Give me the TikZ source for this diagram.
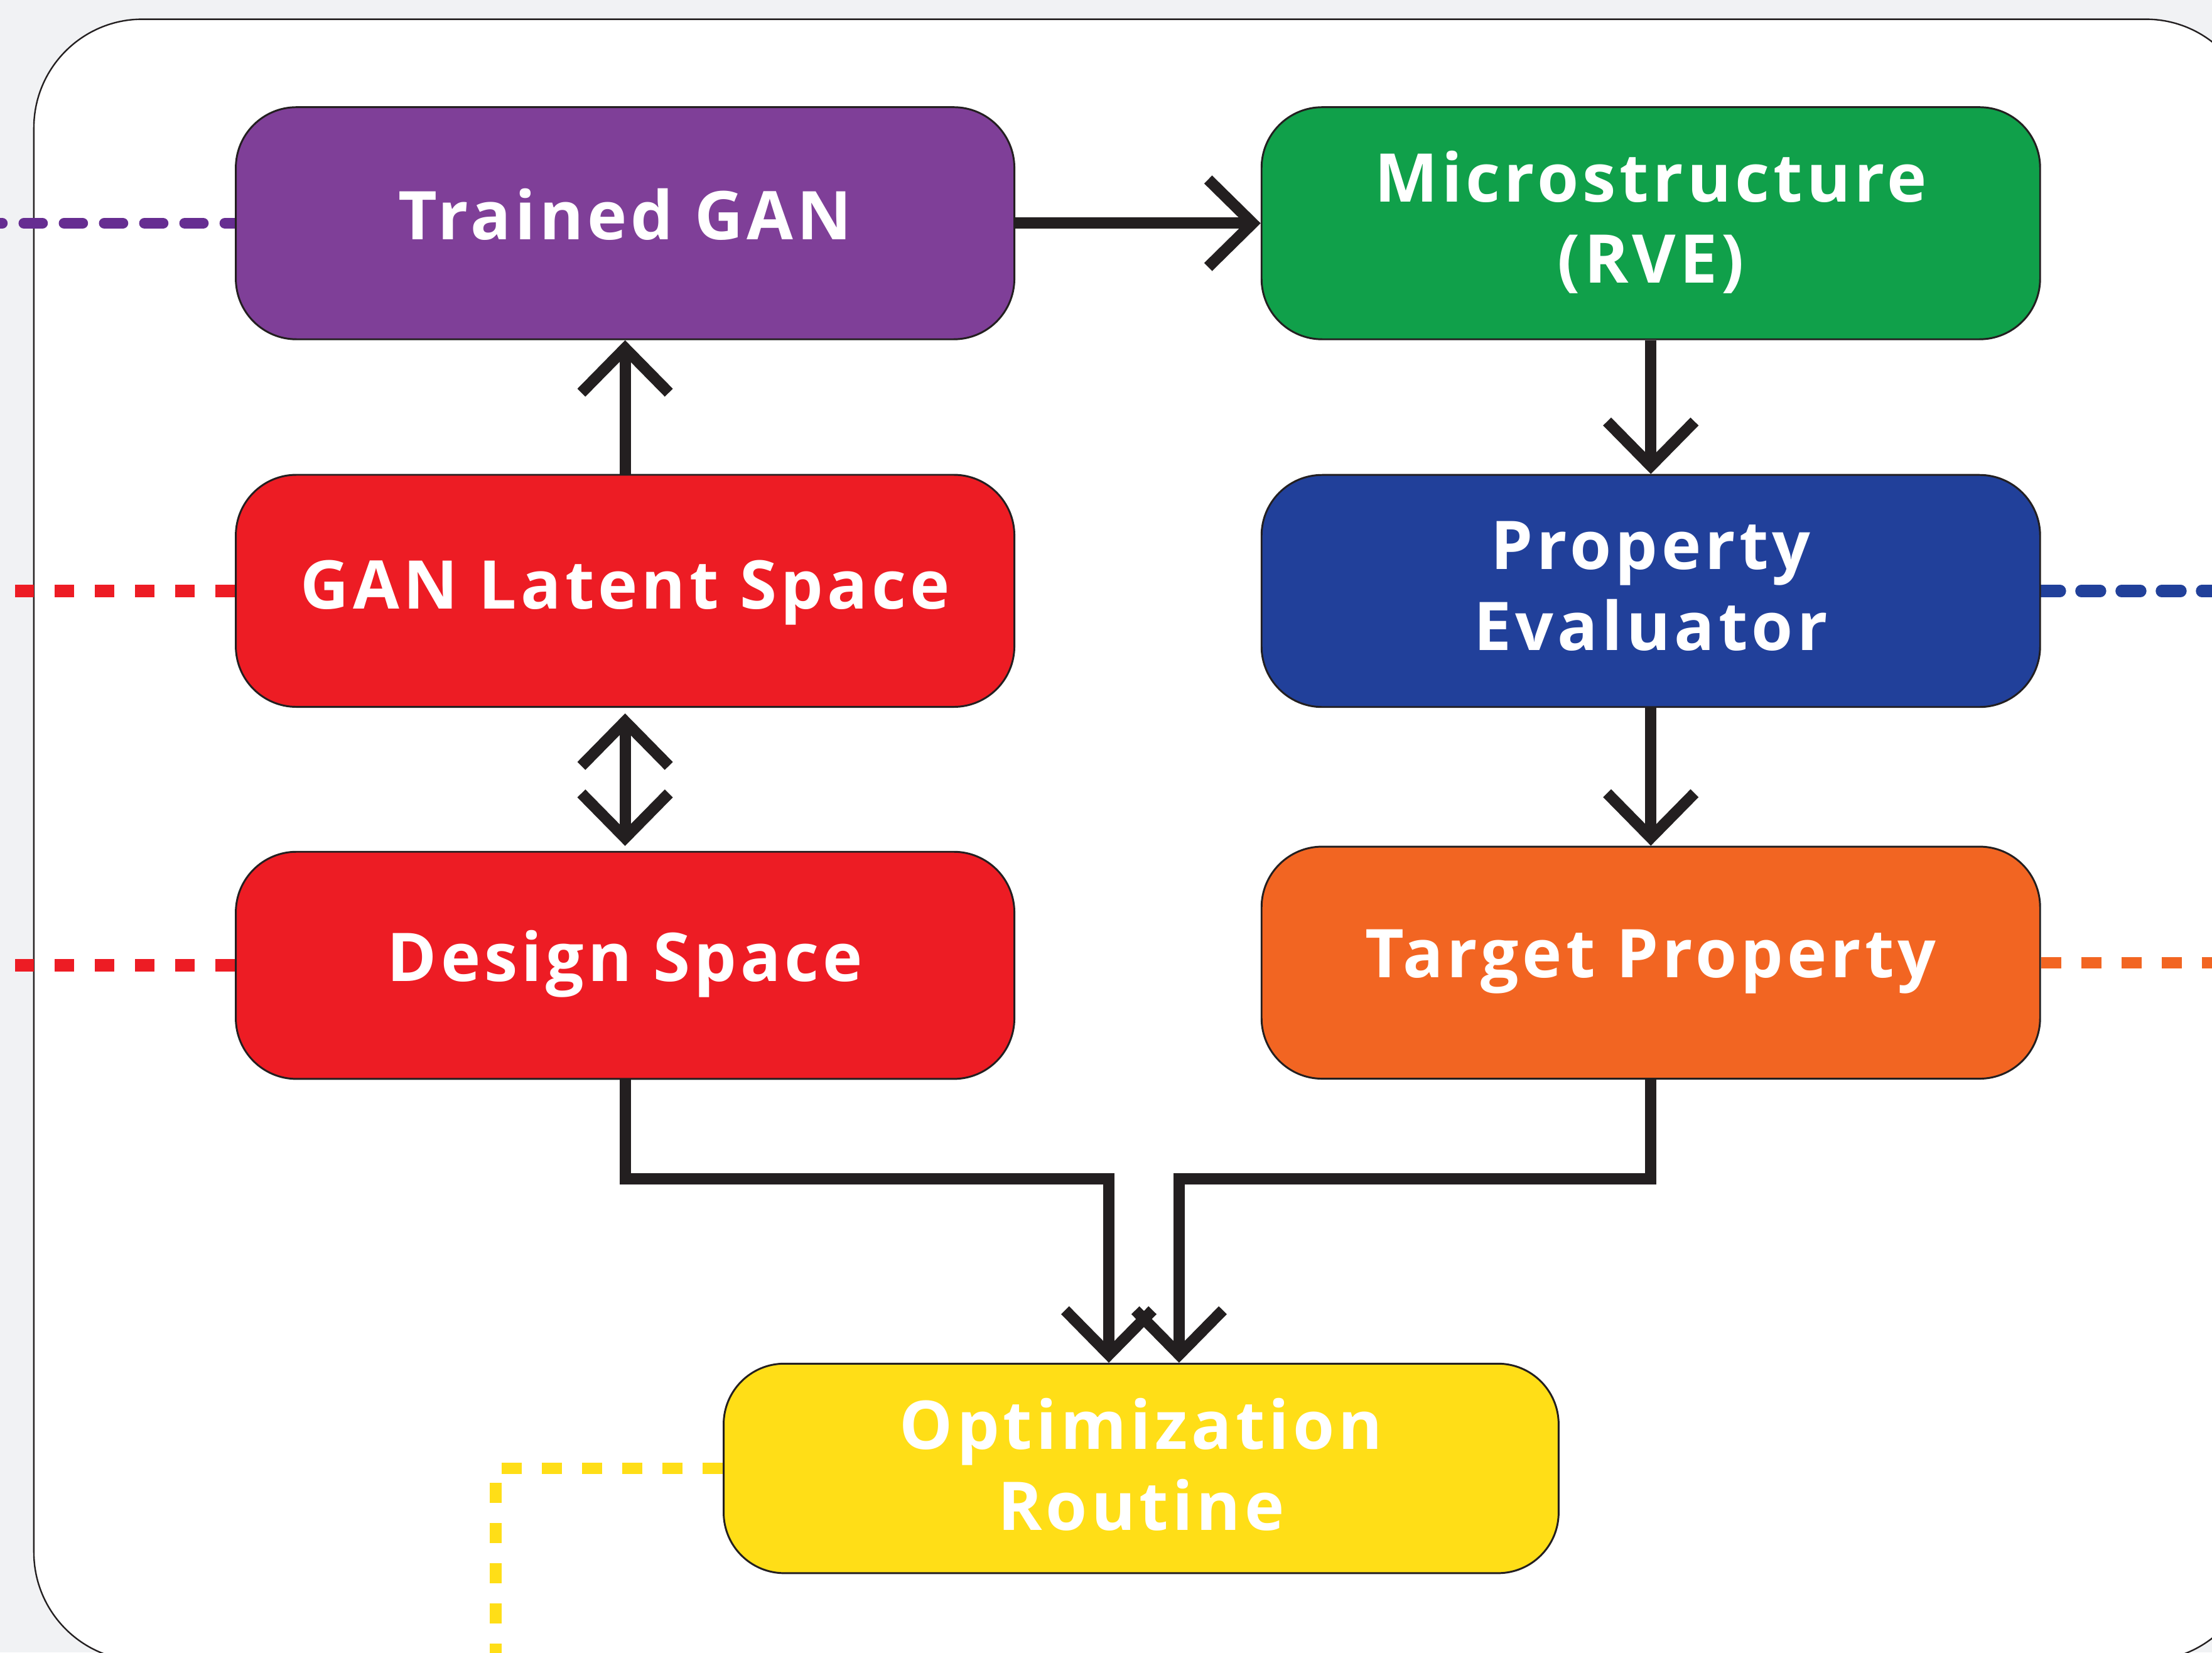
\documentclass[tikz,border=0pt]{standalone}
\usepackage{fontspec}
\setmainfont{Open Sans}[LetterSpace=5.7]
\usetikzlibrary{arrows.meta}
\definecolor{bgc}{RGB}{241,242,244}
\definecolor{linec}{RGB}{35,31,32}
\definecolor{cpurple}{RGB}{127,63,152}
\definecolor{cgreen}{RGB}{16,160,74}
\definecolor{cred}{RGB}{237,28,36}
\definecolor{cblue}{RGB}{33,64,154}
\definecolor{corange}{RGB}{242,101,34}
\definecolor{cyellow}{RGB}{255,222,23}
\definecolor{dpurple}{RGB}{102,45,145}
\pgfdeclarelayer{back}
\pgfsetlayers{back,main}
\newcommand\boxlbl[2][0cm]{\raisebox{-#1}[\height][\depth]{\begin{tabular}{@{}c@{}}#2\end{tabular}}}
\begin{document}
\begin{tikzpicture}[x=0.02cm,y=-0.02cm,
  blk/.style={rectangle, rounded corners=0.86cm, draw=linec, line width=0.75pt,
    minimum width=11.04cm, minimum height=3.29cm, inner sep=0pt, text=white,
    font=\fontsize{27.1pt}{32.6pt}\selectfont\bfseries},
  arr/.style={draw=linec, line width=0.16cm, -{Straight Barb[length=0.63cm,width=1.24cm,sharp]}},
  arrd/.style={draw=linec, line width=0.16cm, {Straight Barb[length=0.63cm,width=1.24cm,sharp]}-{Straight Barb[length=0.63cm,width=1.24cm,sharp]}},
  reddash/.style={cred, line width=0.18cm, dash pattern=on 0.28cm off 0.29cm}
]
\useasboundingbox (0,0) rectangle (1568,1171);

\node[blk, fill=cpurple] (tg) at (443.1,158.2) {\boxlbl{Trained GAN}};
\node[blk, fill=cgreen] (ms) at (1170.2,158.2) {\boxlbl[0.04cm]{Microstructure\\(RVE)}};
\node[blk, fill=cred] (ls) at (443.1,418.7) {\boxlbl[0.03cm]{GAN Latent Space}};
\node[blk, fill=cblue] (pe) at (1170.2,418.8) {\boxlbl[0.04cm]{Property\\Evaluator}};
\node[blk, fill=cred, minimum height=3.22cm] (ds) at (443.1,684.1) {\boxlbl{Design Space}};
\node[blk, fill=corange] (tp) at (1170.2,682.2) {\boxlbl[-0.02cm]{Target Property}};
\node[blk, fill=cyellow, minimum width=11.84cm, minimum height=2.97cm] (opt) at (808.9,1040.6) {\boxlbl[0.07cm]{Optimization\\Routine}};

\coordinate (jL) at (786,835.4);
\coordinate (jR) at (835.8,835.4);
\coordinate (pL) at (-10,0);
\coordinate (rL) at (10.5,0);
\coordinate (rR) at (1590,0);
\coordinate (yc) at (351.5,0);
\coordinate (yb) at (351.5,1190);

\draw[arr] (tg.east) -- (ms.west);
\draw[arr] (ls.north) -- (tg.south);
\draw[arrd, shorten <=0.08cm, shorten >=0.07cm] (ls.south) -- (ds.north);
\draw[arr] (ms.south) -- (pe.north);
\draw[arr] (pe.south) -- (tp.north);
\draw[arr] (ds.south) |- (jL) -- (opt.north -| jL);
\draw[arr] (tp.south) |- (jR) -- (opt.north -| jR);

\begin{pgfonlayer}{back}
  \begin{scope}
    \clip (0,0) rectangle (1568,1171);
    \fill[bgc] (0,0) rectangle (1568,1171);
    \draw[linec, line width=0.6pt, fill=white, rounded corners=1.54cm] (24,13.6) rectangle (1598,1177);
    \draw[dpurple, line width=0.156cm, line cap=round, dash pattern=on 0.26cm off 0.31cm, dash phase=0.12cm] (tg.west) -- (tg.west -| pL);
    \draw[reddash] (ls.west) -- (ls.west -| rL);
    \draw[reddash] (ds.west) -- (ds.west -| rL);
    \draw[cblue, line width=0.17cm, line cap=round, dash pattern=on 0.27cm off 0.30cm] (pe.east) -- (pe.east -| rR);
    \draw[corange, line width=0.164cm, dash pattern=on 0.29cm off 0.28cm] (tp.east) -- (tp.east -| rR);
    \draw[cyellow, line width=0.166cm, dash pattern=on 0.288cm off 0.282cm] (opt.west) -- (opt.west -| yc) -- (yb);
  \end{scope}
\end{pgfonlayer}
\end{tikzpicture}
\end{document}
